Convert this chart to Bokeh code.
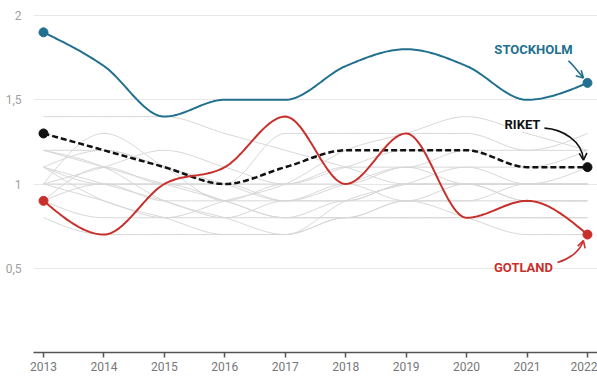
import numpy as np
from bokeh.plotting import figure
from bokeh.models import Range1d, FixedTicker, Label
from bokeh.embed import file_html
from bokeh.resources import INLINE

years = [2013, 2014, 2015, 2016, 2017, 2018, 2019, 2020, 2021, 2022]
stockholm = [1.9, 1.7, 1.4, 1.5, 1.5, 1.7, 1.8, 1.7, 1.5, 1.6]
riket = [1.3, 1.2, 1.1, 1.0, 1.1, 1.2, 1.2, 1.2, 1.1, 1.1]
gotland = [0.9, 0.7, 1.0, 1.1, 1.4, 1.0, 1.3, 0.8, 0.9, 0.7]

other_regions = [
    [1.4, 1.4, 1.4, 1.3, 1.2, 1.1, 1.0, 1.0, 1.0, 1.0],
    [1.0, 1.3, 1.1, 0.9, 0.9, 0.9, 1.0, 1.0, 0.9, 0.9],
    [1.2, 1.1, 1.0, 0.9, 0.8, 0.9, 0.9, 1.0, 1.0, 1.0],
    [1.1, 1.2, 1.1, 1.0, 1.0, 1.1, 1.2, 1.2, 1.1, 1.1],
    [1.1, 0.9, 0.8, 0.7, 0.7, 0.8, 0.8, 0.8, 0.8, 0.8],
    [1.0, 0.9, 0.8, 0.8, 0.9, 0.9, 1.0, 1.0, 0.9, 0.9],
    [0.9, 1.0, 1.0, 0.9, 0.8, 0.8, 0.9, 0.9, 0.9, 0.9],
    [1.1, 1.0, 1.0, 1.0, 1.3, 1.3, 1.3, 1.3, 1.2, 1.2],
    [0.9, 0.8, 0.8, 0.9, 1.0, 1.2, 1.3, 1.4, 1.3, 1.2],
    [1.0, 1.1, 1.2, 1.1, 1.0, 1.1, 1.1, 1.2, 1.2, 1.3],
    [0.8, 0.7, 0.7, 0.7, 0.7, 0.8, 0.8, 0.8, 0.8, 0.8],
    [1.2, 1.1, 0.9, 0.8, 0.7, 0.9, 1.0, 1.1, 1.0, 1.0],
    [1.0, 1.0, 0.9, 0.9, 1.0, 1.0, 1.1, 1.0, 1.0, 1.1],
    [1.1, 1.0, 0.9, 0.8, 0.8, 0.8, 0.9, 0.8, 0.7, 0.7],
    [0.9, 1.1, 1.0, 1.0, 0.9, 1.0, 0.9, 0.9, 1.0, 1.0],
    [1.2, 1.2, 1.1, 1.0, 0.9, 1.0, 1.1, 1.1, 1.1, 1.2],
]

y_ticks = [0.5, 1.0, 1.5, 2.0]
y_tick_labels = {0.5: "0,5", 1.0: "1", 1.5: "1,5", 2.0: "2"}

BLUE = "#22708f"
RED = "#c8302c"
BLACK = "#111111"
GREY = "#d6d6d6"

W, H = 597, 376
BL, BB = 33, 24
SX = 60.44
SY = 168.5
X0 = 2013 - 10 / SX
X1 = X0 + (W - BL) / SX
Y0 = 0.0
Y1 = (H - BB) / SY


def monotone_path(xs, ys, n=30):
    """d3 curveMonotoneX rendering of a series."""
    xs = np.asarray(xs, float)
    ys = np.asarray(ys, float)
    m = len(xs)
    h = np.diff(xs)
    s = np.diff(ys) / h
    t = np.zeros(m)
    for i in range(1, m - 1):
        h0, h1 = h[i - 1], h[i]
        s0, s1 = s[i - 1], s[i]
        p_ = (s0 * h1 + s1 * h0) / (h0 + h1)
        sg = (1 if s0 >= 0 else -1) + (1 if s1 >= 0 else -1)
        t[i] = sg * min(abs(s0), abs(s1), 0.5 * abs(p_))
    t[0] = (3 * s[0] - t[1]) / 2
    t[-1] = (3 * s[-1] - t[-2]) / 2
    px, py = [], []
    u = np.linspace(0, 1, n)
    for i in range(m - 1):
        dx = h[i]
        p0 = (xs[i], ys[i])
        p1 = (xs[i] + dx / 3, ys[i] + dx * t[i] / 3)
        p2 = (xs[i + 1] - dx / 3, ys[i + 1] - dx * t[i + 1] / 3)
        p3 = (xs[i + 1], ys[i + 1])
        bx = ((1 - u) ** 3 * p0[0] + 3 * (1 - u) ** 2 * u * p1[0]
              + 3 * (1 - u) * u ** 2 * p2[0] + u ** 3 * p3[0])
        by = ((1 - u) ** 3 * p0[1] + 3 * (1 - u) ** 2 * u * p1[1]
              + 3 * (1 - u) * u ** 2 * p2[1] + u ** 3 * p3[1])
        if i > 0:
            bx, by = bx[1:], by[1:]
        px.extend(bx)
        py.extend(by)
    return px, py


p = figure(width=W, height=H, x_range=Range1d(X0, X1), y_range=Range1d(Y0, Y1),
           output_backend="svg", toolbar_location=None,
           min_border_left=BL, min_border_right=0, min_border_top=0,
           min_border_bottom=BB)
p.outline_line_color = None
p.background_fill_color = "white"
p.border_fill_color = "white"

p.xgrid.grid_line_color = None
p.ygrid.grid_line_color = "#e8e8e8"
p.ygrid.grid_line_width = 1

p.yaxis.ticker = FixedTicker(ticks=y_ticks)
p.yaxis.major_label_overrides = y_tick_labels
p.yaxis.axis_line_color = None
p.yaxis.major_tick_line_color = None
p.yaxis.minor_tick_line_color = None
p.yaxis.major_label_text_color = "#a0a0a0"
p.yaxis.major_label_text_font = "Roboto"
p.yaxis.major_label_text_font_size = "12px"
p.yaxis.major_label_standoff = 6

p.xaxis.ticker = FixedTicker(ticks=years)
p.xaxis.axis_line_color = "#555555"
p.xaxis.axis_line_width = 1.5
p.xaxis.major_tick_line_color = "#555555"
p.xaxis.major_tick_line_width = 1.5
p.xaxis.major_tick_out = 5
p.xaxis.major_tick_in = 0
p.xaxis.minor_tick_line_color = None
p.xaxis.major_label_text_color = "#777777"
p.xaxis.major_label_text_font = "Roboto"
p.xaxis.major_label_text_font_size = "12px"
p.xaxis.major_label_standoff = 4

for series in other_regions:
    gx, gy = monotone_path(years, series)
    p.line(gx, gy, line_color=GREY, line_width=1)

sx_, sy_ = monotone_path(years, stockholm)
p.line(sx_, sy_, line_color=BLUE, line_width=2)
rx_, ry_ = monotone_path(years, riket)
p.line(rx_, ry_, line_color=BLACK, line_width=2.5, line_dash="6 3")
gx_, gy_ = monotone_path(years, gotland)
p.line(gx_, gy_, line_color=RED, line_width=2)

for series, col in ((stockholm, BLUE), (riket, BLACK), (gotland, RED)):
    p.scatter([years[0], years[-1]], [series[0], series[-1]], size=9,
              fill_color=col, line_color=col)


def off(x, y, dxp, dyp):
    return x + dxp / SX, y - dyp / SY


def arrow(series, col, start, c1, c2, tip):
    x, y = years[-1], series[-1]
    a = off(x, y, *start)
    b = off(x, y, *c1)
    c = off(x, y, *c2)
    d = off(x, y, *tip)
    p.bezier(x0=[a[0]], y0=[a[1]], x1=[d[0]], y1=[d[1]],
             cx0=[b[0]], cy0=[b[1]], cx1=[c[0]], cy1=[c[1]],
             line_color=col, line_width=1.6)
    vx, vy = tip[0] - c2[0], tip[1] - c2[1]
    L = np.hypot(vx, vy)
    vx, vy = vx / L, vy / L
    hx, hy = [], []
    for ang in (0.5, -0.5):
        ca, sa = np.cos(ang), np.sin(ang)
        rx = -(vx * ca - vy * sa) * 8
        ry = -(vx * sa + vy * ca) * 8
        e = off(x, y, tip[0] + rx, tip[1] + ry)
        hx.append([e[0], d[0]])
        hy.append([e[1], d[1]])
    p.multi_line(hx, hy, line_color=col, line_width=1.6)


arrow(stockholm, BLUE, (-19, -22), (-13, -17), (-9, -10), (-4, -5))
arrow(riket, BLACK, (-43, -39), (-25, -38), (-5, -26), (-4, -7))
arrow(gotland, RED, (-30, 28), (-17, 24), (-7, 16), (-4, 6))


def label(series, text, col, dxp, dyp):
    lx, ly = off(years[-1], series[-1], dxp, dyp)
    p.add_layout(Label(x=lx, y=ly, text=text, text_align="center",
                       text_baseline="middle", text_font="Roboto",
                       text_font_style="bold", text_font_size="13px",
                       text_color=col, background_fill_color="white",
                       background_fill_alpha=1.0))


label(stockholm, "STOCKHOLM", BLUE, -54, -33)
label(riket, "RIKET", BLACK, -65, -43)
label(gotland, "GOTLAND", RED, -64, 33)

open("out.html", "w").write(file_html(p, INLINE))
